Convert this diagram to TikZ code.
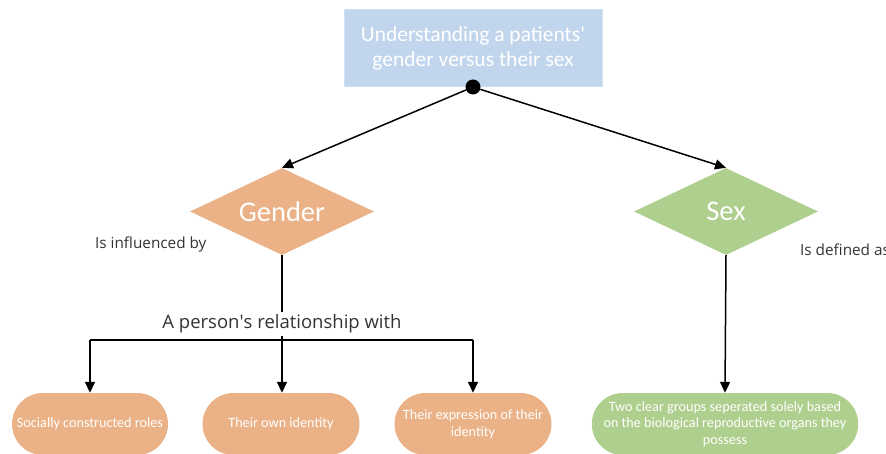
\documentclass[tikz,border=0pt]{standalone}
\usepackage{fontspec}
\setmainfont{Carlito}
\newfontfamily\labelfont{Open Sans}
\usetikzlibrary{shapes.geometric, shapes.misc, arrows.meta}
\definecolor{titleblue}{RGB}{193,213,236}
\definecolor{titleedge}{RGB}{210,224,242}
\definecolor{genderorange}{RGB}{234,178,134}
\definecolor{sexgreen}{RGB}{174,207,141}
\definecolor{labelgray}{RGB}{51,51,51}

\begin{document}
\begin{tikzpicture}[x=1pt, y=-1pt, >={Triangle[length=11pt,width=10pt]},
        link/.style={line width=1.5pt, black},
        titlebox/.style={rectangle, fill=titleblue, draw=titleedge, line width=1pt,
            minimum width=258pt, minimum height=77pt, align=center, text=white,
            font=\fontsize{21.5}{25}\selectfont},
        choice/.style={diamond, aspect=2.1, inner sep=0pt, minimum width=184pt,
            minimum height=87pt, text=white, font=\fontsize{28.5}{32}\selectfont},
        pill/.style={rounded rectangle, minimum height=62pt, inner sep=2pt,
            text=white, align=center, font=\fontsize{14.2}{16.5}\selectfont},
        note/.style={text=labelgray, inner sep=0pt, font=\labelfont\fontsize{15.3}{18}\selectfont}]
    \clip (0,0) rectangle (886,454);

    \node[titlebox] (title) at (473,48.5) {Understanding a patients\textquotesingle\\gender versus their sex};
    \node[circle, fill=black, inner sep=0pt, minimum size=15pt] (split) at (473,87) {};

    \node[choice, fill=genderorange] (gender) at (282,211.5) {Gender};
    \node[choice, fill=sexgreen] (sex) at (726,211.5) {Sex};
    \node[note, anchor=west] (influenced) at (95,244) {Is influenced by};
    \node[note, anchor=west] (defined) at (800,250) {Is defined as};

    \node[note, font=\labelfont\fontsize{18.5}{22}\selectfont, inner sep=3pt] (relation) at (282,324) {A person\textquotesingle s relationship with};
    \coordinate (branch) at (282,340);

    \node[pill, fill=genderorange, minimum width=160pt] (roles) at (90,424) {Socially constructed roles};
    \node[pill, fill=genderorange, minimum width=161pt] (identity) at (281,424) {Their own identity};
    \node[pill, fill=genderorange, minimum width=161pt] (expression) at (473,424) {Their expression of their\\identity};
    \node[pill, fill=sexgreen, minimum width=254pt] (organs) at (725,424) {Two clear groups seperated solely based\\on the biological reproductive organs they\\possess};

    \draw[->, link] (split) -- (gender.north);
    \draw[->, link] (split) -- (sex.north);
    \draw[link] (gender.south) -- (relation.north);
    \draw[link] (relation.south) -- (branch);
    \draw[link] (roles.north |- branch) -- (expression.north |- branch);
    \draw[->, link] (roles.north |- branch) -- (roles.north);
    \draw[->, link] (branch) -- (identity.north -| branch);
    \draw[->, link] (expression.north |- branch) -- (expression.north);
    \draw[->, link] (sex.south) -- (organs.north);
\end{tikzpicture}
\end{document}
